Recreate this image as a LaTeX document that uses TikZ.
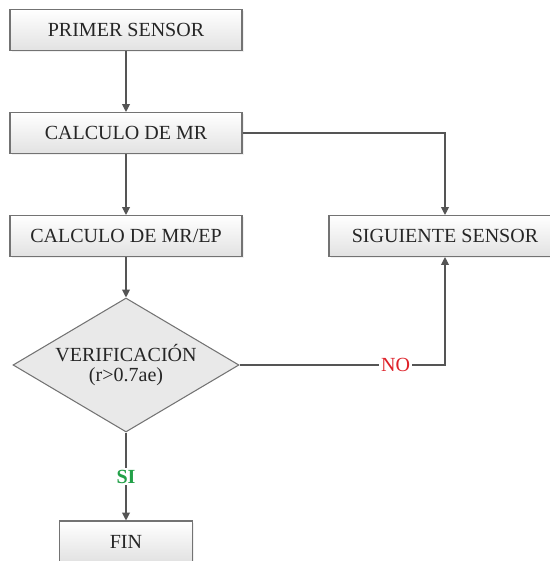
\documentclass[tikz,border=0pt]{standalone}
\usepackage{fontspec}
\setmainfont{Liberation Serif}
\usepackage{tikz}
\usetikzlibrary{arrows.meta,shapes.geometric,shadows}
\usepackage{xcolor}
\definecolor{fclinea}{RGB}{85,85,85}
\definecolor{fcborde}{RGB}{115,115,115}
\definecolor{fcfondo}{RGB}{226,226,226}
\definecolor{fcrojo}{RGB}{222,32,40}
\definecolor{fcverde}{RGB}{34,160,72}
\tikzstyle{arrow} = [line width=0.6pt,->,>={Triangle[length=4.5pt,width=4.5pt]},color=fclinea]
\tikzstyle{caja} = [rectangle, draw=fcborde, line width=0.6pt, top color=white, bottom color=fcfondo,
    minimum width=4.64cm, minimum height=0.82cm, text=black!85,
    drop shadow={opacity=0.12, shadow xshift=1pt, shadow yshift=-1pt}]
\tikzstyle{decision} = [diamond, draw=fcborde, line width=0.6pt, fill=fcfondo!75, aspect=1.69,
    minimum width=4.52cm, minimum height=2.68cm, inner sep=0pt, align=center, text=black!85]

\begin{document}
\begin{tikzpicture}[font=\fontsize{11.4}{11.5}\selectfont]
\useasboundingbox (0,0) rectangle (11,11.22);
% Pasos del proceso
\node[caja] (primer) at (2.52,10.62) {PRIMER SENSOR};
\node[caja] (mr) at (2.52,8.56) {CALCULO DE MR};
\node[caja] (mrep) at (2.52,6.50) {CALCULO DE MR/EP};
\node[caja] (sig) at (8.90,6.50) {SIGUIENTE SENSOR};
\node[decision] (verif) at (2.52,3.92) {VERIFICACIÓN\\(r>0.7ae)};
\node[caja, minimum width=2.66cm] (fin) at (2.52,0.39) {FIN};

% Conexiones
\draw[arrow] (primer) -- (mr);
\draw[arrow] (mr) -- (mrep);
\draw[arrow] (mrep) -- (verif);
\draw[arrow] (mr.east) -| (sig.north);
\draw[arrow] (verif.east) -| node[pos=0.38, fill=white, text=fcrojo, inner sep=1pt] {NO} (sig.south);
\draw[arrow] (verif) -- node[fill=white, text=fcverde, inner sep=1pt] {\bfseries SI} (fin);
\end{tikzpicture}
\end{document}
